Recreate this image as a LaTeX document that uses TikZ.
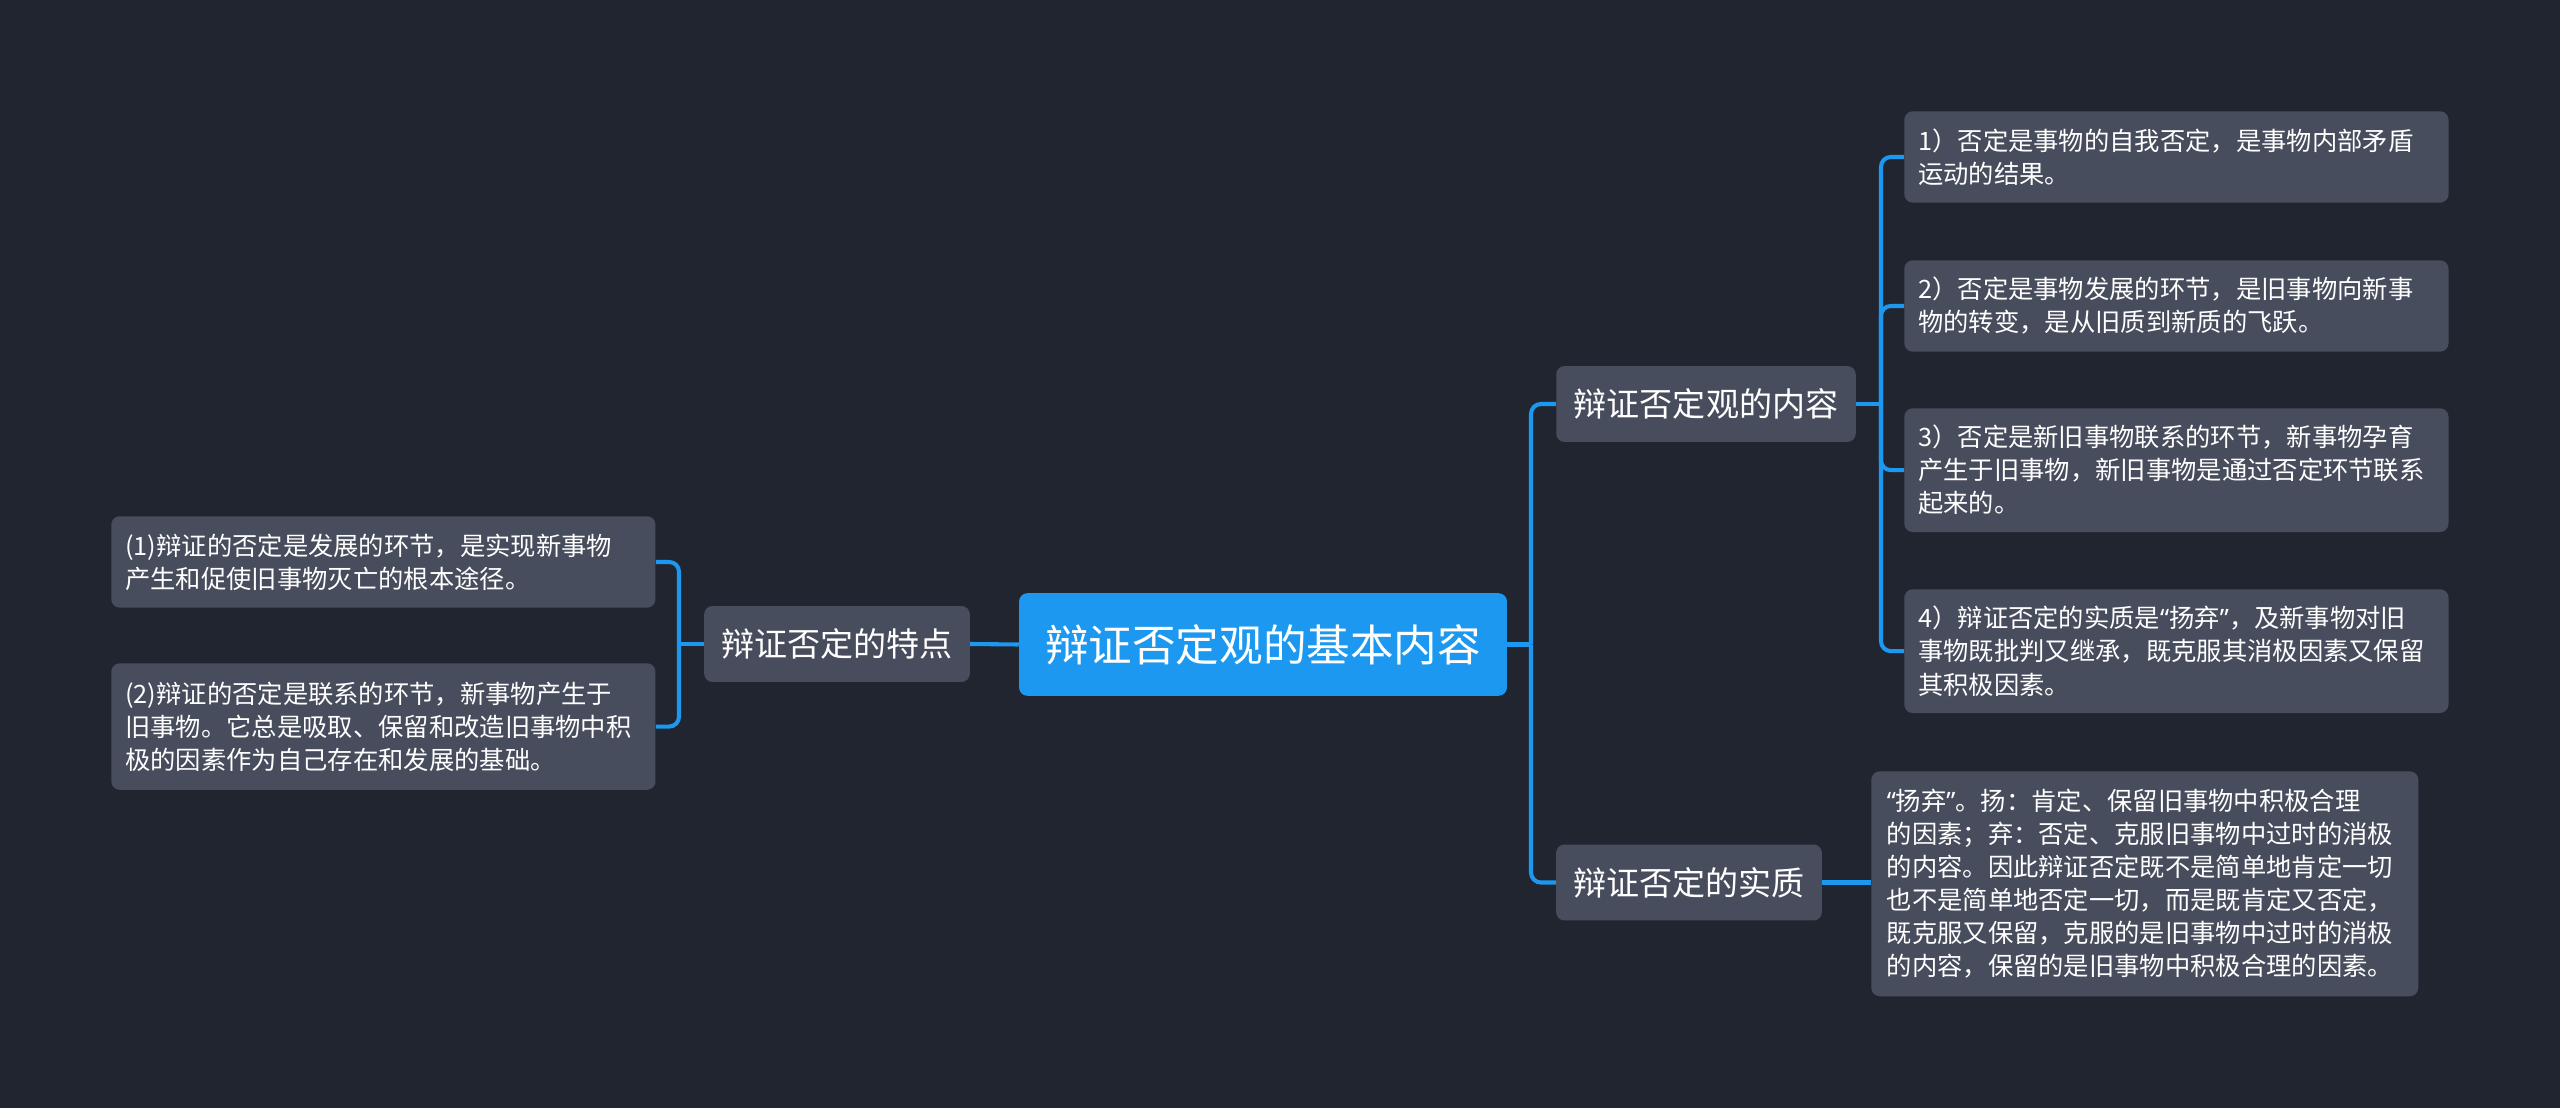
\documentclass[tikz,border=0pt]{standalone}
\usepackage{fontspec}
\setmainfont{Noto Sans CJK SC}
\newfontfamily\quotefont{Noto Sans}
\newcommand{\openq}{{\quotefont “}}
\newcommand{\closeq}{{\quotefont ”}}
\definecolor{mybg}{RGB}{33,37,48}
\definecolor{myblue}{RGB}{28,152,240}
\definecolor{mybox}{RGB}{71,77,92}

\begin{document}
\begin{tikzpicture}[x=0.025cm, y=-0.025cm,
    root/.style={fill=myblue, rounded corners=6pt, text=white, minimum width=347pt,
        minimum height=73pt, inner sep=0pt, font=\fontsize{31}{36}\selectfont},
    topic/.style={fill=mybox, rounded corners=6pt, text=white, minimum height=54pt,
        inner sep=0pt, font=\fontsize{23.5}{28}\selectfont},
    leaf/.style={fill=mybox, rounded corners=6pt, text=white, anchor=north west,
        inner xsep=10pt, inner ysep=0pt, text width=367pt, align=left,
        font=\fontsize{18}{23.5}\selectfont},
    link/.style={draw=myblue, line width=2.9pt, rounded corners=7pt}]
    % Background
    \fill[mybg] (0, 0) rectangle (2560, 1108);
    \useasboundingbox (0, 0) rectangle (2560, 1108);

    % Main topic
    \node[root] (Root) at (1263, 644.5) {辩证否定观的基本内容};

    % Left side
    \node[topic, minimum width=189pt] (Feature) at (837, 644) {辩证否定的特点};
    \node[leaf, minimum height=65pt] (Feature1) at (111, 516)
        {(1)辩证的否定是发展的环节，是实现新事物\\产生和促使旧事物灭亡的根本途径。};
    \node[leaf, minimum height=90pt] (Feature2) at (111, 663)
        {(2)辩证的否定是联系的环节，新事物产生于\\旧事物。它总是吸取、保留和改造旧事物中积\\极的因素作为自己存在和发展的基础。};

    % Right side
    \node[topic, minimum width=213pt] (Content) at (1706, 404) {辩证否定观的内容};
    \node[topic, minimum width=189pt] (Essence) at (1689, 882.5) {辩证否定的实质};
    \node[leaf, minimum height=65pt] (Content1) at (1904, 111)
        {1）否定是事物的自我否定，是事物内部矛盾\\运动的结果。};
    \node[leaf, minimum height=65pt] (Content2) at (1904, 260)
        {2）否定是事物发展的环节，是旧事物向新事\\物的转变，是从旧质到新质的飞跃。};
    \node[leaf, minimum height=88pt] (Content3) at (1904, 408)
        {3）否定是新旧事物联系的环节，新事物孕育\\产生于旧事物，新旧事物是通过否定环节联系\\起来的。};
    \node[leaf, minimum height=88pt] (Content4) at (1904, 589)
        {4）辩证否定的实质是\openq 扬弃\closeq，及新事物对旧\\事物既批判又继承，既克服其消极因素又保留\\其积极因素。};
    \node[leaf, minimum height=160pt, inner xsep=11pt] (Essence1) at (1871, 771)
        {\openq 扬弃\closeq。扬：肯定、保留旧事物中积极合理\\的因素；弃：否定、克服旧事物中过时的消极\\的内容。因此辩证否定既不是简单地肯定一切\\也不是简单地否定一切，而是既肯定又否定，\\既克服又保留，克服的是旧事物中过时的消极\\的内容，保留的是旧事物中积极合理的因素。};

    % Branch points
    \coordinate (RootJoint) at (1531, 644.5);
    \coordinate (FeatureJoint) at (679, 644);
    \coordinate (ContentJoint) at (1881, 404);

    % Connectors
    \draw[link] (Root.west) -- (Feature.east);
    \draw[link] (Feature.west) -- (FeatureJoint);
    \foreach \n in {Feature1, Feature2}
        \draw[link] (FeatureJoint) |- (\n.east);
    \draw[link] (Root.east) -- (RootJoint);
    \draw[link] (RootJoint) |- (Content.west);
    \draw[link] (RootJoint) |- (Essence.west);
    \draw[link] (Content.east) -- (ContentJoint);
    \foreach \n in {Content1, Content2, Content3, Content4}
        \draw[link] (ContentJoint) |- (\n.west);
    \draw[link] (Essence.east) -- (Essence.east -| Essence1.west);
\end{tikzpicture}
\end{document}
